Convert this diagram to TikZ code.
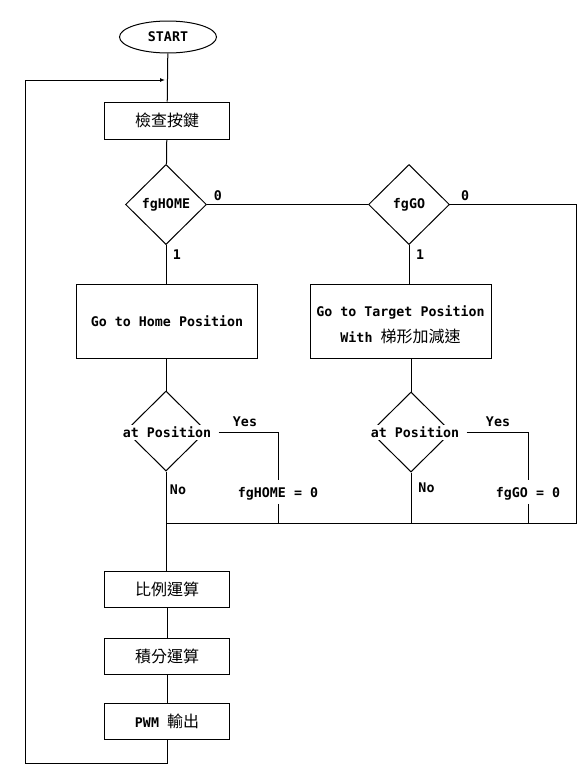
\documentclass[tikz,border=0pt]{standalone}
\usepackage{fontspec}
\setmonofont{DejaVu Sans Mono}
\newfontfamily\cjk{Noto Sans CJK TC}
\newcommand\zh[1]{{\cjk\mdseries\fontsize{16}{18}\selectfont #1}}
\usetikzlibrary{shapes.geometric,arrows.meta}
\begin{document}
\begin{tikzpicture}[x=1pt,y=-1pt,line width=1pt,
  every node/.style={font=\ttfamily\bfseries\fontsize{13.3}{16}\selectfont,inner sep=0pt},
  box/.style={draw,rectangle,minimum width=125,minimum height=37},
  bigbox/.style={draw,rectangle,minimum width=181,minimum height=74,align=center},
  dia/.style={draw,diamond,aspect=1,minimum width=81,minimum height=80},
  lbl/.style={fill=white,inner sep=2pt},
  flag/.style={fill=white,inner sep=3pt}]
\useasboundingbox (0,0) rectangle (586,782);
% nodes
\node[draw,ellipse,minimum width=97,minimum height=32] (start) at (168,37) {START};
\node[box] (k) at (167,120.5) {\zh{檢查按鍵}};
\node[dia] (d1) at (166,204.5) {fgHOME};
\node[dia] (d2) at (409,204.5) {fgGO};
\node[bigbox] (home) at (167,321) {Go to Home Position};
\node[bigbox] (target) at (400.5,321) {\rule{0pt}{19pt}Go to Target Position\\[9pt]With \zh{梯形加減速}};
\node[dia] (d3) at (166,431) {};
\node[lbl] (a3) at (167,432) {at Position};
\node[dia] (d4) at (411,432) {};
\node[lbl] (a4) at (415,432) {at Position};
\node[flag] (y1) at (278,494) {fgHOME = 0};
\node[flag] (y2) at (528,494) {fgGO = 0};
\node[box,minimum height=36] (p) at (167,589) {\zh{比例運算}};
\node[box,minimum height=36] (i) at (167,656) {\zh{積分運算}};
\node[box,minimum height=36] (pwm) at (167,721) {PWM \zh{輸出}};
% coordinates
\coordinate (r1) at (576,204.5);
\coordinate (r2) at (576,523);
\coordinate (j1) at (166,523);
\coordinate (lb) at (25,763);
\coordinate (lt) at (25,80);
\coordinate (ar) at (165,80);
% labels
\node at (218,195.5) {0};
\node at (465,195.5) {0};
\node at (177,254.5) {1};
\node at (420,255) {1};
\node at (245,422) {Yes};
\node at (498,422) {Yes};
\node at (178,490) {No};
\node at (426.5,488) {No};
% connectors
\draw (start) -- (k);
\draw (k) -- (d1);
\draw (d1.south) -- (d1.south |- home.north);
\draw (d1.east) -- (d2.west);
\draw (d2.east) -- (r1) -- (r2) -- (j1);
\draw (d2.south) -- (d2.south |- target.north);
\draw (home.south -| d3.north) -- (d3.north);
\draw (target.south -| d4.north) -- (d4.north);
\draw (d3.south) -- (p.north -| d3.south);
\draw (d4.south) -- (d4.south |- r2);
\draw ([xshift=5pt]a3.east) -| ([yshift=4pt]y1.north);
\draw (y1.south) -- (y1.south |- r2);
\draw ([xshift=5pt]a4.east) -| ([yshift=4pt]y2.north);
\draw (y2.south) -- (y2.south |- r2);
\draw (p) -- (i);
\draw (i) -- (pwm);
\draw[-{Latex[length=5pt,width=4pt]}] (pwm.south) |- (lb) -- (lt) -- (ar);
\end{tikzpicture}
\end{document}
